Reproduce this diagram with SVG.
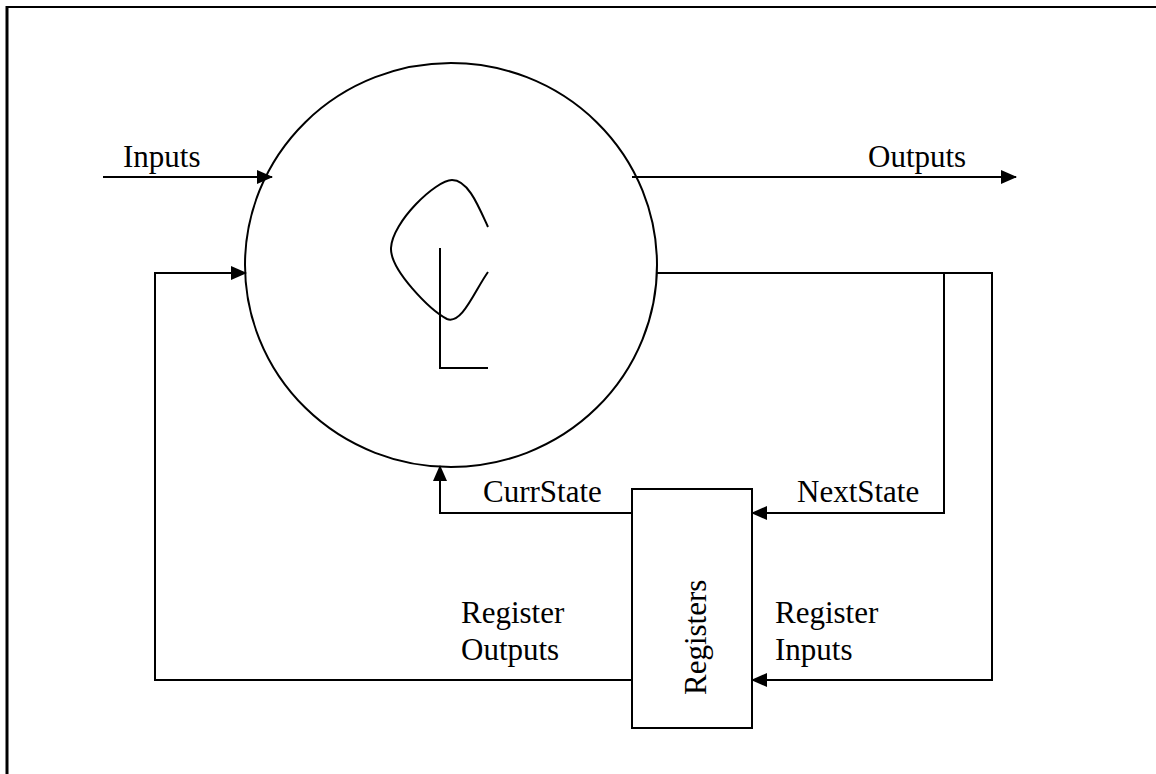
<svg xmlns="http://www.w3.org/2000/svg" width="1156" height="774" viewBox="0 0 1156 774">
<defs>
<marker id="arr" markerUnits="userSpaceOnUse" markerWidth="16" markerHeight="14" refX="15" refY="7" orient="auto">
<path d="M0,0 L16,7 L0,14 Z" fill="#000"/>
</marker>
<style>
.ln{fill:none;stroke:#000;stroke-width:2}
.t{font-family:"Liberation Serif","Times New Roman",serif;font-size:31px;fill:#000}
</style>
</defs>
<rect width="1156" height="774" fill="#fff"/>
<g id="frame">
<line x1="7" y1="7" x2="1156" y2="7" stroke="#000" stroke-width="2"/>
<line x1="7" y1="6" x2="7" y2="774" stroke="#000" stroke-width="3"/>
</g>
<g id="logic">
<ellipse cx="451" cy="265" rx="206" ry="202" class="ln"/>
<path class="ln" d="M488,227 C478,205 468,180 452,180 C436,180 392,222 391,248 C390,270 430,310 447,319 C462,325 475,290 488,272"/>
<path class="ln" d="M440,248 L440,368 L488,368"/>
</g>
<g id="registers">
<rect x="632" y="489" width="120" height="239" class="ln"/>
<text class="t" transform="translate(706,695) rotate(-90)">Registers</text>
</g>
<g id="connectors">
<line class="ln" x1="103" y1="177" x2="272" y2="177" marker-end="url(#arr)"/>
<line class="ln" x1="632" y1="177" x2="1016" y2="177" marker-end="url(#arr)"/>
<path class="ln" d="M656,273 L992,273 L992,680 L752,680" marker-end="url(#arr)"/>
<path class="ln" d="M944,273 L944,513 L752,513" marker-end="url(#arr)"/>
<path class="ln" d="M632,513 L440,513 L440,466" marker-end="url(#arr)"/>
<path class="ln" d="M632,680 L155,680 L155,273 L246,273" marker-end="url(#arr)"/>
</g>
<g id="labels">
<text class="t" x="123" y="167">Inputs</text>
<text class="t" x="868" y="167">Outputs</text>
<text class="t" x="483" y="502">CurrState</text>
<text class="t" x="797" y="502">NextState</text>
<text class="t" x="461" y="623">Register</text>
<text class="t" x="461" y="660">Outputs</text>
<text class="t" x="775" y="623">Register</text>
<text class="t" x="775" y="660">Inputs</text>
</g>
</svg>
